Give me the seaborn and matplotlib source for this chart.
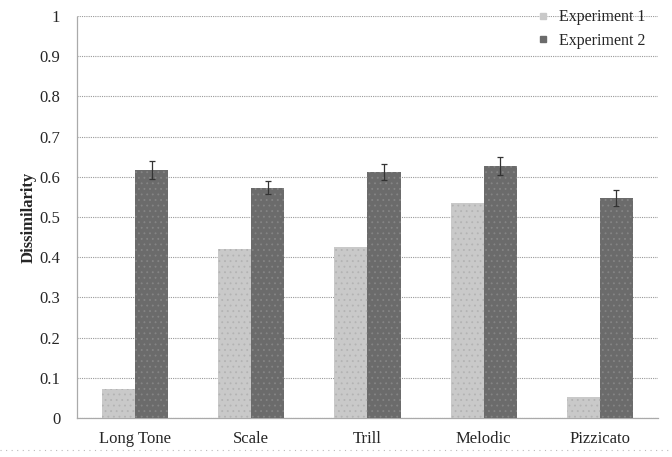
import numpy as np
import pandas as pd
import matplotlib
matplotlib.use("Agg")
import matplotlib.pyplot as plt
import seaborn as sns
from matplotlib.lines import Line2D
from matplotlib.ticker import FixedLocator

# data
categories = ['Long Tone', 'Scale', 'Trill', 'Melodic', 'Pizzicato']
exp1 = [0.072, 0.420, 0.425, 0.535, 0.053]
exp2 = [0.617, 0.573, 0.612, 0.627, 0.547]
exp2_err = [0.022, 0.017, 0.020, 0.022, 0.020]
series = ['Experiment 1', 'Experiment 2']
yticks = [0, 0.1, 0.2, 0.3, 0.4, 0.5, 0.6, 0.7, 0.8, 0.9, 1]
ytick_labels = ['0', '0.1', '0.2', '0.3', '0.4', '0.5', '0.6', '0.7', '0.8', '0.9', '1']

df = pd.DataFrame({
    'Category': categories * 2,
    'Series': [series[0]] * len(categories) + [series[1]] * len(categories),
    'Value': exp1 + exp2,
})

sns.set_style('white')
plt.rcParams['font.family'] = ['Liberation Serif', 'DejaVu Serif']
plt.rcParams['hatch.linewidth'] = 0.6

fig = plt.figure(figsize=(6.72, 4.57), dpi=100)
ax = fig.add_axes([0.1146, 0.0853, 0.8644, 0.8797])

colors = {'Experiment 1': '#c9c9c9', 'Experiment 2': '#6b6b6b'}
dots = {'Experiment 1': '#b3b3b3', 'Experiment 2': '#858585'}
sns.barplot(data=df, x='Category', y='Value', hue='Series', palette=colors,
            width=0.57, ax=ax, errorbar=None, legend=False,
            linewidth=0, zorder=3)

# dotted texture on the bars
for cont, s in zip(ax.containers, series):
    for p in cont:
        p.set_hatch('...')
        p.set_edgecolor(dots[s])
        p.set_linewidth(0)

# error bars on Experiment 2 bars
bars2 = ax.containers[1]
for rect, v, e in zip(bars2, exp2, exp2_err):
    cx = rect.get_x() + rect.get_width() / 2
    ax.errorbar(cx, v, yerr=e, fmt='none', ecolor='#333333', elinewidth=0.9,
                capsize=2.5, capthick=0.9, zorder=4)

ax.set_ylim(0, 1)
ax.set_xlim(-0.5, len(categories) - 0.5)
ax.set_yticks(yticks)
ax.set_yticklabels(ytick_labels, fontsize=12)
ax.set_xticks(range(len(categories)))
ax.set_xticklabels(categories, fontsize=12)
ax.tick_params(axis='x', length=0, pad=9)
ax.xaxis.set_minor_locator(FixedLocator(np.arange(-0.5, len(categories), 1)))
ax.tick_params(axis='x', which='minor', length=4, color='#aaaaaa', direction='out')
ax.tick_params(axis='y', length=4, color='#aaaaaa', direction='out', pad=8)

ax.set_xlabel('')
ax.set_ylabel('Dissimilarity', fontsize=12, fontweight='bold', labelpad=2)

ax.yaxis.grid(True, color='#999999', linestyle=(0, (1, 1)), linewidth=0.8, zorder=0)
ax.set_axisbelow(True)
for s in ['top', 'right']:
    ax.spines[s].set_visible(False)
for s in ['left', 'bottom']:
    ax.spines[s].set_color('#aaaaaa')
    ax.spines[s].set_linestyle((0, (1, 1)))
    ax.spines[s].set_linewidth(0.9)

handles = [Line2D([], [], marker='s', linestyle='none', markersize=5,
                  markerfacecolor=colors[s], markeredgecolor=colors[s]) for s in series]
ax.legend(handles, series, loc='upper right', bbox_to_anchor=(0.995, 1.04),
          frameon=False, fontsize=11.5, handletextpad=0.0, labelspacing=0.45,
          borderaxespad=0.2)

# dotted border line at the bottom of the picture
fig.add_artist(Line2D([0.0, 1.0], [0.015, 0.015], transform=fig.transFigure,
                      color='#bbbbbb', linestyle=(0, (1, 4)), linewidth=0.8))

fig.savefig('out.png', dpi=100)
